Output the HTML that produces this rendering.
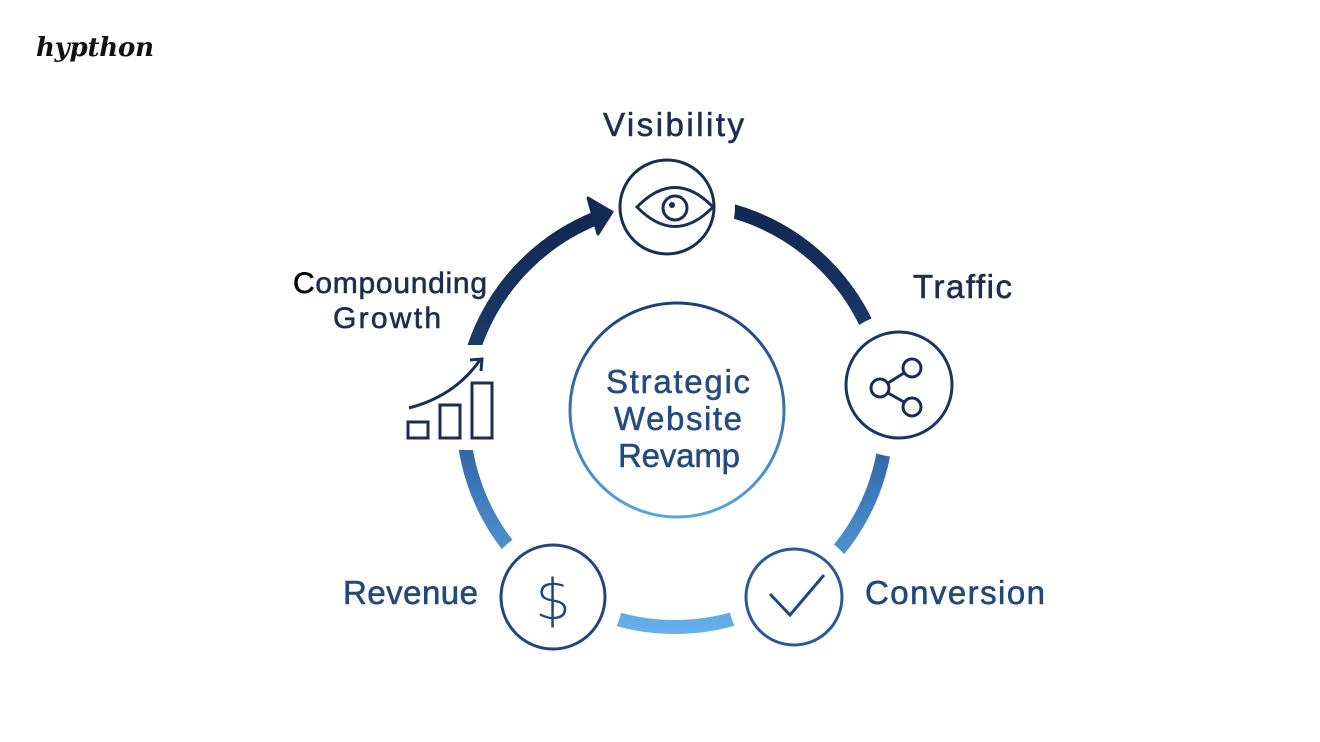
<!DOCTYPE html>
<html><head><meta charset="utf-8"><style>
html,body{margin:0;padding:0;background:#fff;}
svg{display:block;}
</style></head><body>
<svg width="1320" height="742" viewBox="0 0 1320 742" xmlns="http://www.w3.org/2000/svg" font-family="Liberation Sans, DejaVu Sans, sans-serif">
<defs>
<linearGradient id="g" gradientUnits="userSpaceOnUse" x1="0" y1="200" x2="0" y2="630">
<stop offset="0" stop-color="#10264d"/><stop offset="0.35" stop-color="#1c3a6a"/><stop offset="0.65" stop-color="#3a74b4"/><stop offset="1" stop-color="#64b0ea"/>
</linearGradient>
<linearGradient id="c" gradientUnits="userSpaceOnUse" x1="0" y1="300" x2="0" y2="520">
<stop offset="0" stop-color="#1b3e72"/><stop offset="1" stop-color="#5aa6e2"/>
</linearGradient>
</defs>
<text x="36" y="56" font-family="DejaVu Serif, serif" font-style="italic" font-weight="bold" font-size="26" fill="#111" textLength="118">hypthon</text>
<circle cx="675" cy="415" r="212" fill="none" stroke="url(#g)" stroke-width="14"/>
<circle cx="667" cy="207" r="68" fill="#fff"/>
<circle cx="899" cy="385" r="72" fill="#fff"/>
<circle cx="794" cy="597" r="66" fill="#fff"/>
<circle cx="553" cy="597" r="70" fill="#fff"/>
<rect x="395" y="345" width="110" height="105" fill="#fff"/>
<polygon points="612,212 588,198 598,234" fill="#132a52" stroke="#132a52" stroke-width="3" stroke-linejoin="round"/>
<g fill="none" stroke="#172e55" stroke-width="3">
<circle cx="667" cy="207" r="47"/>
<path d="M637,207 Q675,168 713,207 Q675,246 637,207 Z"/>
<circle cx="675" cy="208" r="12"/>
<circle cx="899" cy="385" r="53" stroke="#1a3562"/>
<circle cx="912" cy="368" r="9"/><circle cx="880" cy="388" r="9"/><circle cx="912" cy="407" r="9"/>
<path d="M888,383 L904,373 M888,393 L904,402"/>
<circle cx="794" cy="597" r="48" style="stroke:#2a5a96"/>
<path d="M770,594 L790,615 L824,575" stroke="#1f4680"/>
<circle cx="553" cy="597" r="52" stroke="#22457a"/>
<circle cx="677" cy="410" r="107" stroke="url(#c)"/>
<path d="M409,408 Q455,396 480,360 M470,360 L482,359 L481,371"/>
<rect x="408" y="422" width="20" height="16"/><rect x="440" y="405" width="20" height="33"/><rect x="472" y="383" width="20" height="55"/>
</g>
<circle cx="672" cy="205" r="3" fill="#172e55"/>
<text x="553" y="619" text-anchor="middle" font-size="56" fill="#22457a" font-family="DejaVu Sans, sans-serif" font-weight="200">$</text>
<g font-size="33" fill="#1d2f50" stroke="#1d2f50" stroke-width="0.6" lengthAdjust="spacing">
<text x="603" y="136" textLength="141">Visibility</text>
<text x="913" y="298" textLength="99">Traffic</text>
<text x="293" y="293" font-size="30" textLength="194"><tspan fill="#000" stroke="#000">C</tspan>ompounding</text>
<text x="333" y="328" font-size="30" textLength="108">Growth</text>
<text x="343" y="604" textLength="135" fill="#23487a" stroke="#23487a">Revenue</text>
<text x="865" y="604" textLength="180" fill="#23487a" stroke="#23487a">Conversion</text>
</g>
<g font-size="33" fill="#244a82" stroke="#244a82" stroke-width="0.5">
<text x="606" y="393" textLength="144">Strategic</text>
<text x="614" y="430" textLength="128">Website</text>
<text x="618" y="467" textLength="122">Revamp</text>
</g>
</svg>
</body></html>
